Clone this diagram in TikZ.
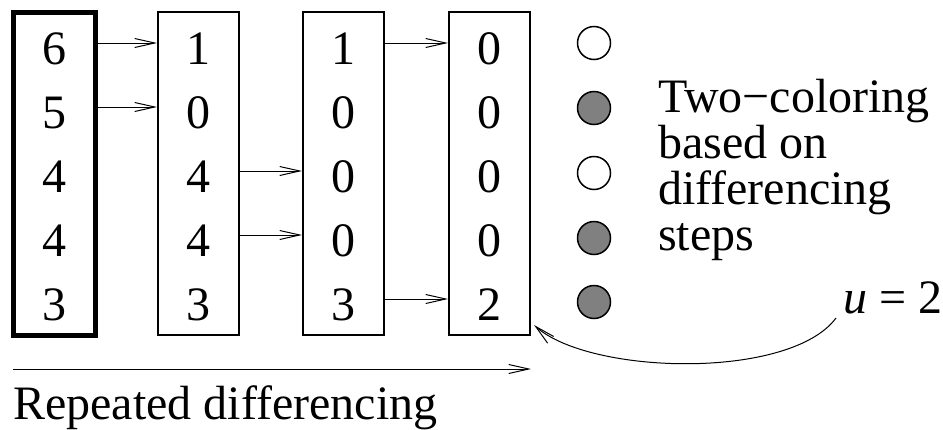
\documentclass[tikz,border=0pt]{standalone}
\usepackage{fontspec}
\setmainfont{Liberation Serif}
\usetikzlibrary{arrows.meta}
\begin{document}
\begin{tikzpicture}[x=1pt,y=-1pt,
  every node/.style={font=\fontsize{48}{56}\selectfont, inner sep=0pt},
  col/.style={draw, line width=2pt, minimum width=81pt, minimum height=323pt},
  digit/.style={anchor=center},
  arr/.style={line width=1pt, -{Straight Barb[length=20pt,width=9pt,line width=1pt]}},
  dot/.style={circle, draw, line width=1.5pt, minimum size=33pt},
  light/.style={dot, fill=white},
  dark/.style={dot, fill=black!50},
  txt/.style={anchor=base west}]
\useasboundingbox (0,0) rectangle (943,429);

% the four columns
\node[col, line width=5pt, minimum width=82pt] (b1) at (54,173.5) {};
\node[col] (b2) at (198.5,173.5) {};
\node[col] (b3) at (343.5,173.5) {};
\node[col] (b4) at (489.5,173.5) {};

% column entries
\foreach \c/\x/\vals in {1/54/{6,5,4,4,3}, 2/198.5/{1,0,4,4,3}, 3/343.5/{1,0,0,0,3}, 4/489.5/{0,0,0,0,2}}{
  \foreach \v [count=\r] in \vals {
    \node[digit] (d\c\r) at (\x,{49+64*(\r-1)}) {\v};
  }
}

% arrow heights
\foreach \r in {1,...,5}{
  \coordinate (r\r) at (0,{43+64*(\r-1)});
}

% differencing steps
\draw[arr] (b1.east |- r1) -- (b2.west |- r1);
\draw[arr] (b1.east |- r2) -- (b2.west |- r2);
\draw[arr] (b2.east |- r3) -- (b3.west |- r3);
\draw[arr] (b2.east |- r4) -- (b3.west |- r4);
\draw[arr] (b3.east |- r1) -- (b4.west |- r1);
\draw[arr] (b3.east |- r5) -- (b4.west |- r5);

% two-coloring
\node[light] (c1) at (594,43) {};
\node[dark]  (c2) at (594,108) {};
\node[light] (c3) at (594,173) {};
\node[dark]  (c4) at (594,238) {};
\node[dark]  (c5) at (594,302) {};

\node[txt] (t1) at (658,112) {Two−coloring};
\node[txt] (t2) at (658,158) {based on};
\node[txt] (t3) at (658,204) {differencing};
\node[txt] (t4) at (658,250) {steps};

% u = 2 label and its pointer
\node[txt] (ulab) at (843,313) {\textit{u} = 2};
\coordinate (ustart) at (836,318);
\draw[arr] (ustart) .. controls (790,380) and (590,375) .. ([shift={(3,-11)}]b4.south east);

% overall direction
\coordinate (s0) at (13,369);
\draw[arr] (s0) -- (s0 -| b4.east);
\node[txt] (lab) at (13,419) {Repeated differencing};
\end{tikzpicture}
\end{document}
